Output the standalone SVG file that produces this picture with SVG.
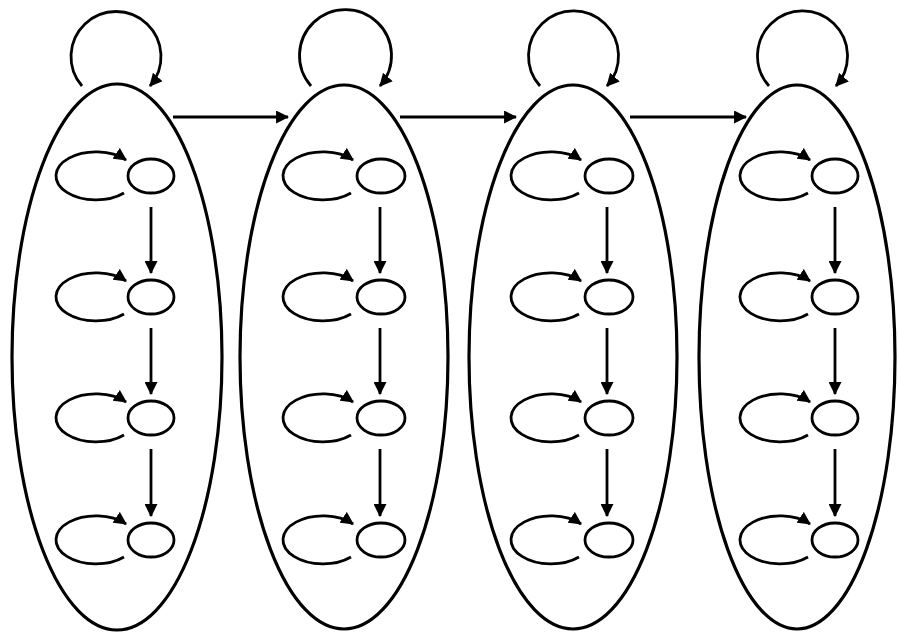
<svg xmlns="http://www.w3.org/2000/svg" width="898" height="633" viewBox="0 0 898 633">
<defs>
<style>
.big{fill:none;stroke:#000;stroke-width:3.2}
.st{fill:none;stroke:#000;stroke-width:2.8}
.al{fill:none;stroke:#000;stroke-width:2.8;marker-end:url(#ah)}
</style>
<marker id="ah" viewBox="0 0 12 12" refX="11" refY="6" markerWidth="13" markerHeight="13" markerUnits="userSpaceOnUse" orient="auto">
<path d="M0,0 L12,6 L0,12 Z" fill="#000"/>
</marker>
</defs>
<rect width="898" height="633" fill="#fff"/>

<g id="group1">
<ellipse class="big" cx="117" cy="357" rx="105" ry="273"/>
<g id="n1a"><ellipse class="st" cx="151" cy="176" rx="23" ry="17"/></g>
<g id="n1b"><ellipse class="st" cx="151" cy="297" rx="23" ry="17"/></g>
<g id="n1c"><ellipse class="st" cx="151" cy="418" rx="23" ry="17"/></g>
<g id="n1d"><ellipse class="st" cx="151" cy="540" rx="23" ry="17"/></g>
</g>
<g id="group2">
<ellipse class="big" cx="344" cy="357" rx="104" ry="272"/>
<g id="n2a"><ellipse class="st" cx="381" cy="176" rx="24" ry="17"/></g>
<g id="n2b"><ellipse class="st" cx="381" cy="297" rx="24" ry="17"/></g>
<g id="n2c"><ellipse class="st" cx="381" cy="418" rx="24" ry="17"/></g>
<g id="n2d"><ellipse class="st" cx="381" cy="540" rx="24" ry="17"/></g>
</g>
<g id="group3">
<ellipse class="big" cx="573" cy="357" rx="104" ry="272"/>
<g id="n3a"><ellipse class="st" cx="609" cy="176" rx="24" ry="17"/></g>
<g id="n3b"><ellipse class="st" cx="609" cy="297" rx="24" ry="17"/></g>
<g id="n3c"><ellipse class="st" cx="609" cy="418" rx="24" ry="17"/></g>
<g id="n3d"><ellipse class="st" cx="609" cy="540" rx="24" ry="17"/></g>
</g>
<g id="group4">
<ellipse class="big" cx="797" cy="357" rx="98" ry="272"/>
<g id="n4a"><ellipse class="st" cx="835" cy="176" rx="23" ry="17"/></g>
<g id="n4b"><ellipse class="st" cx="835" cy="297" rx="23" ry="17"/></g>
<g id="n4c"><ellipse class="st" cx="835" cy="418" rx="23" ry="17"/></g>
<g id="n4d"><ellipse class="st" cx="835" cy="540" rx="23" ry="17"/></g>
</g>

<g id="connectors">
<path class="al" d="M82,86 A45,45 0 1 1 150,86"/>
<path class="al" d="M311,86 A46,46 0 1 1 380,86"/>
<path class="al" d="M540,86 A45,45 0 1 1 607,86"/>
<path class="al" d="M769,86 A45,45 0 1 1 836,86"/>
<path class="al" d="M173,117 L288,117"/>
<path class="al" d="M400,117 L516,117"/>
<path class="al" d="M630,117 L746,117"/>
<g id="loops1">
<path class="al" d="M124,193 A40,24 0 1 1 126,160"/>
<path class="al" d="M124,314 A40,24 0 1 1 126,281"/>
<path class="al" d="M124,435 A40,24 0 1 1 126,402"/>
<path class="al" d="M124,557 A40,24 0 1 1 126,524"/>
</g>
<g id="loops2">
<path class="al" d="M351,193 A40,24 0 1 1 353,160"/>
<path class="al" d="M351,314 A40,24 0 1 1 353,281"/>
<path class="al" d="M351,435 A40,24 0 1 1 353,402"/>
<path class="al" d="M351,557 A40,24 0 1 1 353,524"/>
</g>
<g id="loops3">
<path class="al" d="M579,193 A40,24 0 1 1 581,160"/>
<path class="al" d="M579,314 A40,24 0 1 1 581,281"/>
<path class="al" d="M579,435 A40,24 0 1 1 581,402"/>
<path class="al" d="M579,557 A40,24 0 1 1 581,524"/>
</g>
<g id="loops4">
<path class="al" d="M808,193 A40,24 0 1 1 810,160"/>
<path class="al" d="M808,314 A40,24 0 1 1 810,281"/>
<path class="al" d="M808,435 A40,24 0 1 1 810,402"/>
<path class="al" d="M808,557 A40,24 0 1 1 810,524"/>
</g>
<path class="al" d="M151,207 L151,273"/>
<path class="al" d="M151,328 L151,394"/>
<path class="al" d="M151,449 L151,516"/>
<path class="al" d="M380,207 L380,273"/>
<path class="al" d="M380,328 L380,394"/>
<path class="al" d="M380,449 L380,516"/>
<path class="al" d="M607,207 L607,273"/>
<path class="al" d="M607,328 L607,394"/>
<path class="al" d="M607,449 L607,516"/>
<path class="al" d="M835,207 L835,273"/>
<path class="al" d="M835,328 L835,394"/>
<path class="al" d="M835,449 L835,516"/>
</g>
</svg>
